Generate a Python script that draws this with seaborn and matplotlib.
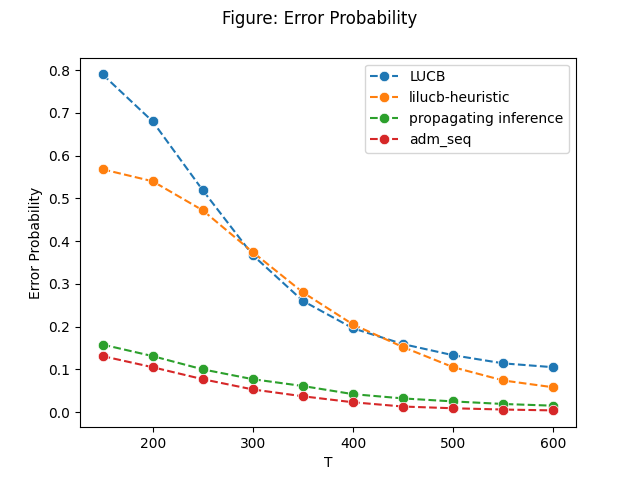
import pandas as pd
import numpy as np
import matplotlib
matplotlib.use('Agg')
import matplotlib.pyplot as plt
import seaborn as sns

T = [150, 200, 250, 300, 350, 400, 450, 500, 550, 600]
lucb = [0.790, 0.680, 0.519, 0.367, 0.260, 0.196, 0.159, 0.133, 0.114, 0.105]
lilucb_heuristic = [0.568, 0.540, 0.472, 0.374, 0.280, 0.205, 0.152, 0.105, 0.074, 0.058]
propagating_inference = [0.158, 0.131, 0.100, 0.077, 0.061, 0.042, 0.032, 0.025, 0.019, 0.015]
adm_seq = [0.131, 0.105, 0.077, 0.053, 0.037, 0.023, 0.013, 0.009, 0.006, 0.004]

names = ['LUCB', 'lilucb-heuristic', 'propagating inference', 'adm_seq']
values = [lucb, lilucb_heuristic, propagating_inference, adm_seq]
colors = ['#1f77b4', '#ff7f0e', '#2ca02c', '#d62728']

fig, ax = plt.subplots(figsize=(6.4, 4.8), dpi=100)
for name, vals, c in zip(names, values, colors):
    df = pd.DataFrame({'T': T, 'p': vals})
    sns.lineplot(data=df, x='T', y='p', ax=ax, color=c, label=name,
                 linestyle='--', marker='o', markersize=7.5,
                 markeredgewidth=0.5)

ax.set_xlabel('T')
ax.set_ylabel('Error Probability')
ax.legend(loc='upper right')
fig.suptitle('Figure: Error Probability')
fig.savefig('out.png')
